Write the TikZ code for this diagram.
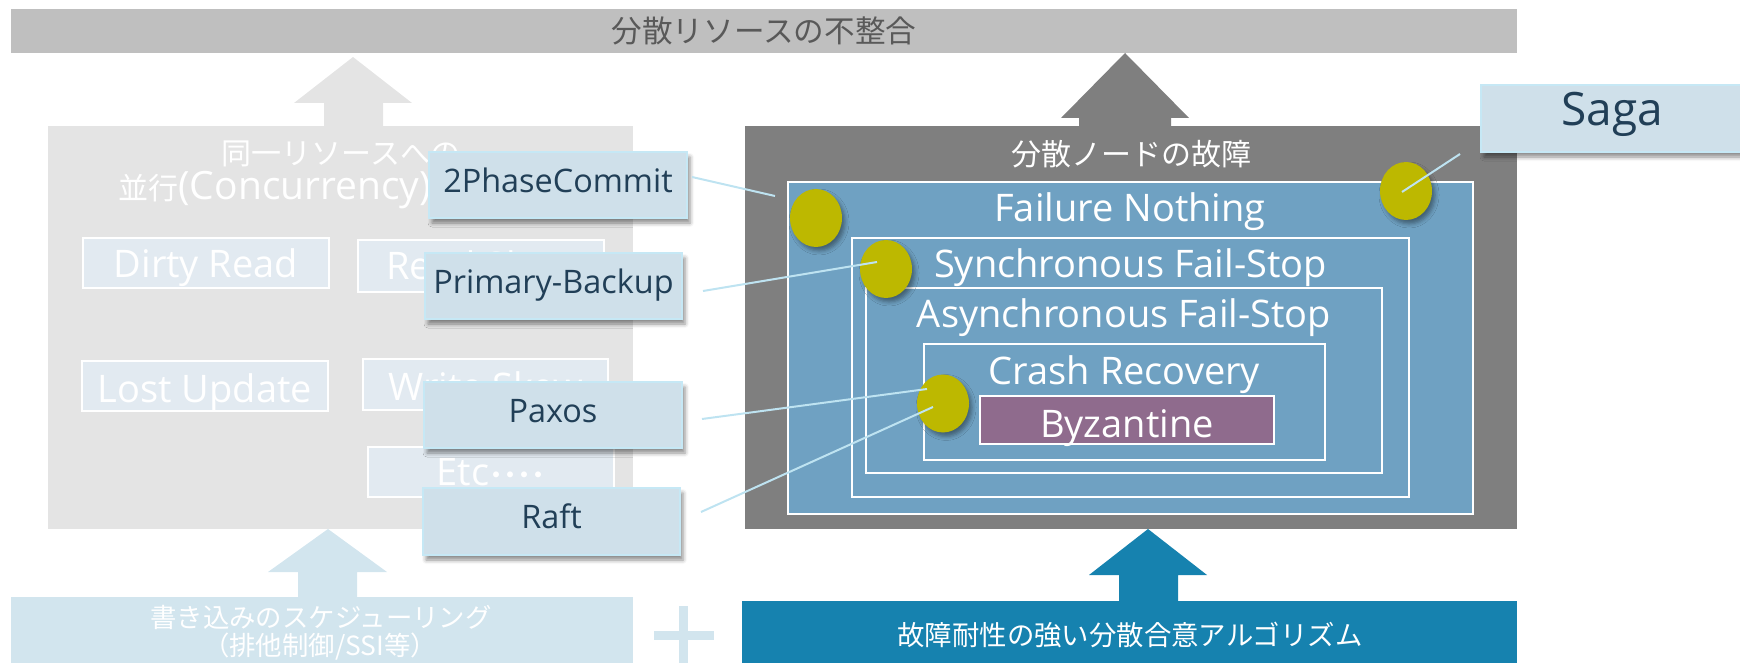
\documentclass[tikz,border=0pt]{standalone}
\usepackage{fontspec}
\setmainfont{Open Sans}
\newfontfamily\jp{Noto Sans CJK JP}
\usetikzlibrary{shadows.blur,shapes.geometric}
\definecolor{barC}{HTML}{BFBFBF}
\definecolor{titleC}{HTML}{595959}
\definecolor{lgray}{HTML}{E4E4E4}
\definecolor{liteC}{HTML}{E2EAF1}
\definecolor{blC}{HTML}{D2E5EE}
\definecolor{dgray}{HTML}{7F7F7F}
\definecolor{nestC}{HTML}{6FA1C2}
\definecolor{byzC}{HTML}{8F6B8D}
\definecolor{ellC}{HTML}{BDB800}
\definecolor{coFill}{HTML}{CFE0EA}
\definecolor{coLine}{HTML}{C6E8F5}
\definecolor{coText}{HTML}{213F57}
\definecolor{connC}{HTML}{BEE3F1}
\definecolor{brC}{HTML}{1682AF}
\newcommand{\nkdot}{\makebox[7pt]{\jp\fontsize{14}{14}\selectfont ・}}
\begin{document}
\begin{tikzpicture}[x=0.5pt,y=-0.5pt,
  bx/.style={rectangle, inner sep=0pt, outer sep=0pt},
  lbl/.style={inner sep=0pt, anchor=base, text=white, font=\fontsize{19}{21}\selectfont},
  jlbl/.style={inner sep=0pt, text=white, font=\jp\fontsize{15}{17}\selectfont},
  nest/.style={bx, fill=nestC, draw=white, line width=1pt},
  lite/.style={bx, fill=liteC, draw=white, line width=1pt},
  callout/.style={bx, fill=coFill, draw=coLine, line width=1pt, text=coText,
    text height=0.72em, text depth=0pt, font=\fontsize{16.2}{19}\selectfont,
    blur shadow={shadow xshift=1.5pt, shadow yshift=-2.5pt, shadow blur radius=2pt, shadow opacity=45}},
  ell/.style={ellipse, inner sep=0pt, minimum width=26pt, minimum height=29pt, fill=ellC,
    blur shadow={shadow xshift=1.5pt, shadow yshift=-2pt, shadow blur radius=2pt, shadow opacity=40}},
  conn/.style={draw=connC, line width=1pt},
]
\useasboundingbox (0,0) rectangle (1740,663);

% top bar
\node[bx, fill=barC, minimum width=753pt, minimum height=22pt] (topbar) at (764,31) {};
\node[jlbl, text=titleC, font=\jp\fontsize{15.3}{17}\selectfont] (toptitle) at (764,31) {分散リソースの不整合};

% ---------- left side ----------
\fill[lgray] (324,127) -- (324,103) -- (294,103) -- (353,57) -- (412,103) -- (383,103) -- (383,127) -- cycle;
\node[bx, fill=lgray, minimum width=292.5pt, minimum height=201.5pt] (lbox) at (340.5,327.5) {};
\node[jlbl] (lt1) at (341,154) {同一リソースへの};
\node[jlbl, anchor=west] (lt2) at (118,190) {並行{\rmfamily\fontsize{19.5}{22}\selectfont(Concurrency)}};

\node[lite, minimum width=123pt, minimum height=25pt] (dirty) at (206,263) {};
\node[lbl] (dirtyT) at (206,278) {Dirty Read};
\node[lite, minimum width=123pt, minimum height=26pt] (rskew) at (481,266) {};
\node[lbl] (rskewT) at (481,280) {Read Skew};
\node[lite, minimum width=123pt, minimum height=25pt] (lost) at (205,386) {};
\node[lbl] (lostT) at (205,402) {Lost Update};
\node[lite, minimum width=122.5pt, minimum height=25.5pt] (wskew) at (485.5,384.5) {};
\node[lbl] (wskewT) at (485.5,400) {Write Skew};
\node[lite, minimum width=123pt, minimum height=25pt] (etc) at (491,472) {};
\node[lbl] (etcT) at (491,485) {Etc\nkdot\nkdot\nkdot\nkdot};

% bottom left
\fill[blC] (298,598) -- (298,572) -- (268,572) -- (328,529) -- (387,572) -- (357,572) -- (357,598) -- cycle;
\node[bx, fill=blC, minimum width=311pt, minimum height=34pt] (blbox) at (322,631) {};
\node[jlbl, font=\jp\fontsize{13.2}{15}\selectfont] (bl1) at (321,617) {書き込みのスケジューリング};
\node[jlbl, font=\jp\fontsize{13.2}{15}\selectfont] (bl2) at (320,647) {（排他制御/SSI等）};

% plus
\fill[blC] (679,606) rectangle (688,665);
\fill[blC] (654,631) rectangle (714,640);

% ---------- right side ----------
\fill[dgray] (1079,127) -- (1079,118) -- (1061,118) -- (1125,53) -- (1189,118) -- (1171,118) -- (1171,127) -- cycle;
\node[bx, fill=dgray, minimum width=386pt, minimum height=201.5pt] (rbox) at (1131,327.5) {};
\node[jlbl] (rt) at (1131,154) {分散ノードの故障};

\node[nest, minimum width=342.5pt, minimum height=166pt] (fail) at (1130.5,348) {};
\node[lbl] (failT) at (1130,222) {Failure Nothing};
\node[nest, minimum width=278.5pt, minimum height=129.5pt] (sync) at (1130.5,367.5) {};
\node[lbl] (syncT) at (1130.5,278) {Synchronous Fail-Stop};
\node[nest, minimum width=258pt, minimum height=92.5pt] (async) at (1124,380.5) {};
\node[lbl] (asyncT) at (1124,328) {Asynchronous Fail-Stop};
\node[nest, minimum width=200.5pt, minimum height=58pt] (crash) at (1124.5,402) {};
\node[lbl] (crashT) at (1124.5,384) {Crash Recovery};
\node[bx, fill=byzC, draw=white, line width=1pt, minimum width=147pt, minimum height=24pt] (byz) at (1127,420) {};
\node[lbl] (byzT) at (1127,437) {Byzantine};

% bottom right
\fill[brC] (1119,602) -- (1119,575) -- (1089,575) -- (1148,529) -- (1207,575) -- (1178,575) -- (1178,602) -- cycle;
\node[bx, fill=brC, minimum width=387.5pt, minimum height=32pt] (brbox) at (1129.5,633) {};
\node[jlbl, font=\jp\fontsize{13.7}{15}\selectfont] (brT) at (1130,635) {故障耐性の強い分散合意アルゴリズム};

% ellipses
\node[ell] (e1) at (816,218) {};
\node[ell] (e2) at (886,269) {};
\node[ell] (e3) at (943,403.5) {};
\node[ell] (e4) at (1406,191) {};

% callouts
\node[callout, minimum width=129pt, minimum height=33pt] (pc) at (558,185) {2PhaseCommit};
\node[callout, minimum width=128.5pt, minimum height=33pt] (pb) at (553.5,286) {Primary-Backup};
\node[callout, minimum width=129pt, minimum height=33pt] (px) at (553,415) {Paxos};
\node[callout, minimum width=128.5pt, minimum height=33.5pt] (rf) at (551.5,521.5) {Raft};
\node[callout, minimum width=131pt, minimum height=33.5pt, font=\fontsize{23}{26}\selectfont] (sg) at (1612,118.5) {Saga};

% connectors
\draw[conn] ([shift={(5,-8)}]pc.east) -- ([shift={(-13,14)}]fail.north west);
\draw[conn] ([shift={(21,5)}]pb.east) -- ([shift={(-9,-7)}]e2.center);
\draw[conn] ([shift={(20,4)}]px.east) -- ([shift={(-16,-14.5)}]e3.center);
\draw[conn] ([shift={(21,-9.5)}]rf.east) -- ([shift={(-10,3.5)}]e3.center);
\draw[conn] ([shift={(-21,35.5)}]sg.west) -- ([shift={(-4,1)}]e4.center);
\end{tikzpicture}
\end{document}
